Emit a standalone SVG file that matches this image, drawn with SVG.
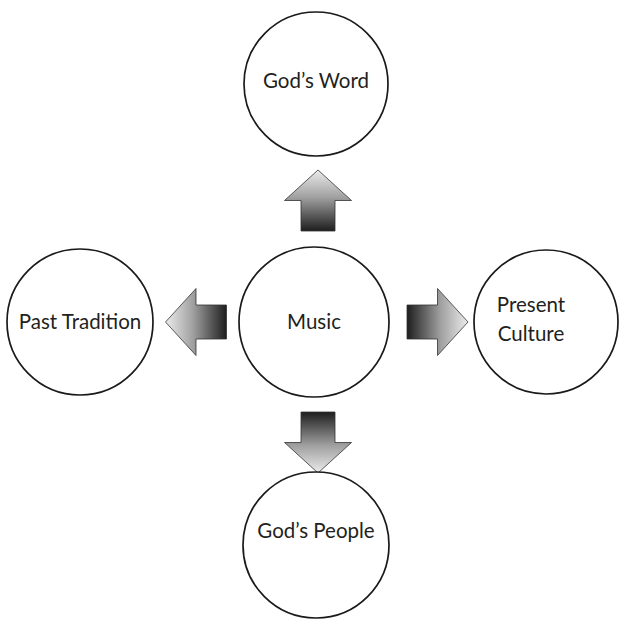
<svg xmlns="http://www.w3.org/2000/svg" width="621" height="632" viewBox="0 0 621 632">
<style>
.node{fill:#fff;stroke:#1a1a1a;stroke-width:1.7}
.lbl{font-family:Lato,"Open Sans","Liberation Sans",sans-serif;font-size:20.5px;fill:#231f20;text-anchor:middle}
.arr{fill:url(#g);stroke:#333;stroke-width:0.8}
</style>
<defs>
<linearGradient id="g" x1="0" y1="0" x2="0" y2="1">
<stop offset="0" stop-color="#ebebeb"/>
<stop offset="0.45" stop-color="#a0a0a0"/>
<stop offset="1" stop-color="#1e1e1e"/>
</linearGradient>
<path id="up" d="M0,-30.5 L33.5,0 L17,0 L17,30.5 L-17,30.5 L-17,0 L-33.5,0 Z"/>
</defs>
<g id="connectors">
<use href="#up" class="arr" transform="translate(318,200.5)"/>
<use href="#up" class="arr" transform="translate(318,442.5) rotate(180)"/>
<use href="#up" class="arr" transform="translate(196,322) rotate(-90)"/>
<use href="#up" class="arr" transform="translate(437.5,322) rotate(90)"/>
</g>
<g id="music"><circle class="node" cx="314" cy="322" r="75"/><text class="lbl" x="314" y="329">Music</text></g>
<g id="gods-word"><circle class="node" cx="316" cy="84" r="72"/><text class="lbl" x="316" y="88">God’s Word</text></g>
<g id="past-tradition"><circle class="node" cx="80" cy="322" r="73"/><text class="lbl" x="80" y="329">Past Tradition</text></g>
<g id="present-culture"><circle class="node" cx="546" cy="322" r="72"/><text class="lbl" x="531" y="312">Present</text><text class="lbl" x="531" y="341">Culture</text></g>
<g id="gods-people"><circle class="node" cx="316" cy="545" r="73"/><text class="lbl" x="316" y="538">God’s People</text></g>
</svg>
